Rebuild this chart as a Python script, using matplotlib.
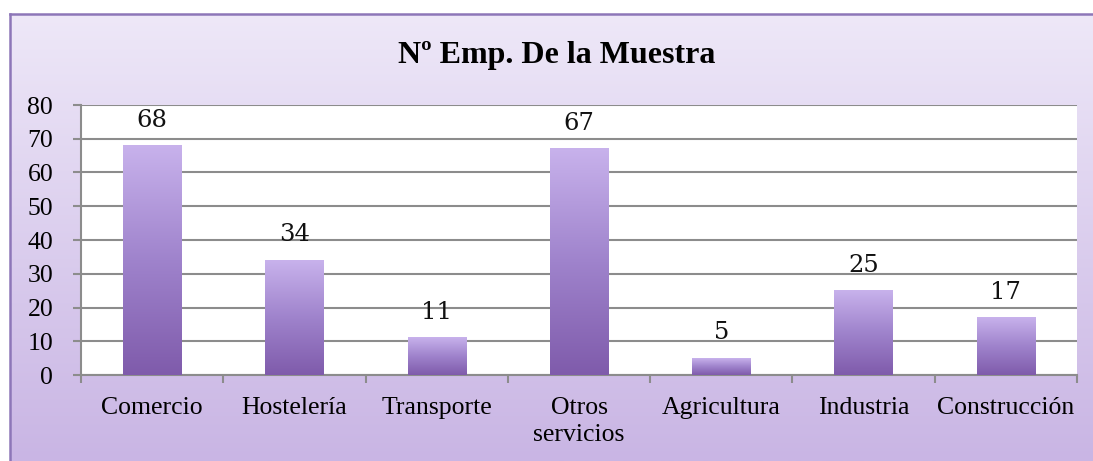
import numpy as np
import matplotlib
matplotlib.use('Agg')
from matplotlib import pyplot as plt
from matplotlib.colors import LinearSegmentedColormap

categorias = ['Comercio', 'Hostelería', 'Transporte', 'Otros\nservicios',
              'Agricultura', 'Industria', 'Construcción']
valores = [68, 34, 11, 67, 5, 25, 17]
yticks = [0, 10, 20, 30, 40, 50, 60, 70, 80]
titulo = 'Nº Emp. De la Muestra'

W, H = 1093, 461
fig = plt.figure(figsize=(W / 100., H / 100.), dpi=100)
fig.patch.set_facecolor('white')

# fondo degradado con marco morado arriba e izquierda
bg = fig.add_axes([10. / W, 0, 1 - 10. / W, 447. / H], zorder=-5)
bg_cmap = LinearSegmentedColormap.from_list('bg', ['#c9b5e4', '#eee8f8'])
bg.imshow(np.linspace(0, 1, 256).reshape(-1, 1), cmap=bg_cmap, aspect='auto',
          origin='lower', extent=(0, 1, 0, 1))
bg.set_xticks([])
bg.set_yticks([])
for s in ['right', 'bottom']:
    bg.spines[s].set_visible(False)
for s in ['top', 'left']:
    bg.spines[s].set_color('#8d76b8')
    bg.spines[s].set_linewidth(1.8)

ax = fig.add_axes([81. / W, 86. / H, (1077. - 81.) / W, (375. - 105.) / H])
ax.set_facecolor('white')

x = np.arange(len(categorias))
ancho = 0.41
barras = ax.bar(x, valores, width=ancho, color='none', zorder=3)

bar_cmap = LinearSegmentedColormap.from_list('bar', ['#7f5bab', '#9f83cc', '#c8b2ec'])
grad = np.linspace(0, 1, 256).reshape(-1, 1)
for b, v in zip(barras, valores):
    x0 = b.get_x()
    ax.imshow(grad, cmap=bar_cmap, aspect='auto', origin='lower',
              extent=(x0, x0 + ancho, 0, v), zorder=3)
    ax.annotate(str(v), (b.get_x() + ancho / 2, v), xytext=(0, 10),
                textcoords='offset points', ha='center', va='bottom',
                fontsize=17.5, family='DejaVu Serif', color='#111111')

ax.set_xlim(-0.5, len(categorias) - 0.5)
ax.set_ylim(0, 80)

ax.set_yticks(yticks)
ax.yaxis.grid(True, color='#8c8c8c', linewidth=1.5, zorder=1)
ax.set_axisbelow(True)
ax.tick_params(axis='y', length=6, width=1.5, color='#8c8c8c', pad=14,
               labelsize=18.5)

ax.set_xticks(x)
ax.set_xticklabels(categorias, linespacing=1.3)
ax.set_xticks(np.arange(len(categorias) + 1) - 0.5, minor=True)
ax.tick_params(axis='x', which='major', length=0, pad=16, labelsize=18.5)
ax.tick_params(axis='x', which='minor', length=6, width=1.5, color='#8c8c8c')

for lab in ax.get_xticklabels() + ax.get_yticklabels():
    lab.set_family('Liberation Serif')

for s in ['top', 'right']:
    ax.spines[s].set_visible(False)
for s in ['left', 'bottom']:
    ax.spines[s].set_color('#8c8c8c')
    ax.spines[s].set_linewidth(1.5)

fig.text(557. / W, 1 - 56. / H, titulo, ha='center', va='center',
         fontsize=23, fontweight='bold', family='Liberation Serif')

plt.savefig('out.png', dpi=100)
